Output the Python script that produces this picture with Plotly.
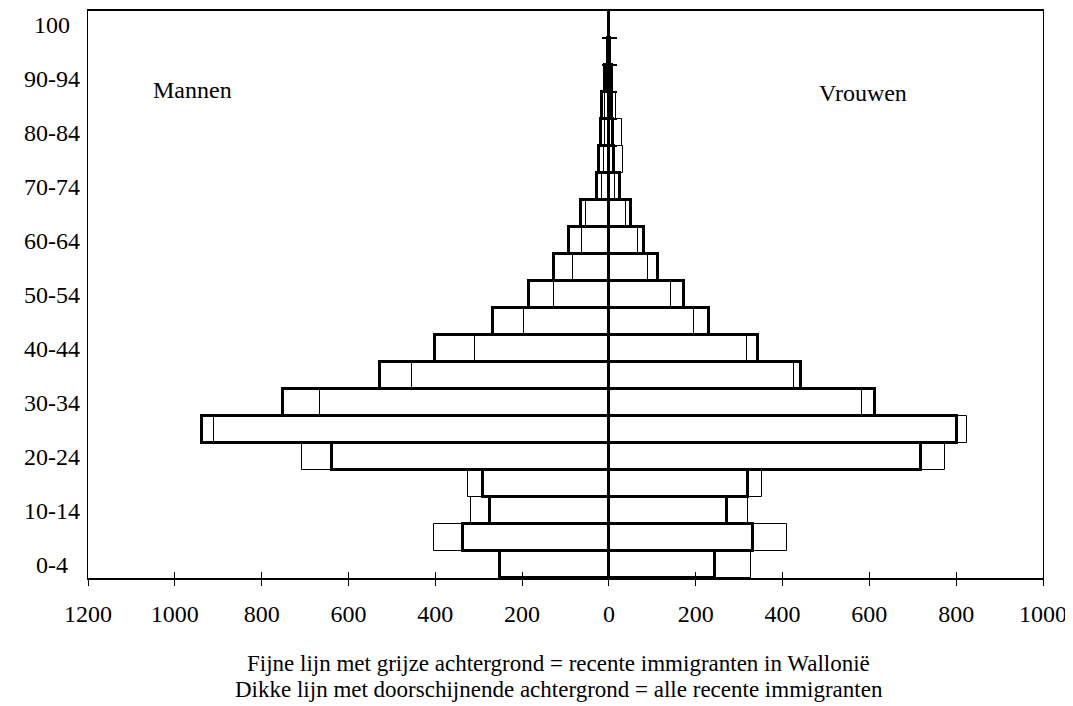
import plotly.graph_objects as go

age_groups = ["0-4", "5-9", "10-14", "15-19", "20-24", "25-29", "30-34", "35-39",
              "40-44", "45-49", "50-54", "55-59", "60-64", "65-69", "70-74",
              "75-79", "80-84", "85-89", "90-94", "95-99", "100"]

# Mannen (left side), alle recente immigranten (thick line)
men_all = [250, 335, 275, 289, 638, 937, 751, 528, 400, 266, 185, 127, 93, 65,
           27, 22, 18, 15, 10, 2, 0]
# Mannen, recente immigranten in Wallonië (thin line)
men_wal = [248, 404, 317, 324, 706, 909, 666, 454, 308, 195, 127, 83, 63, 52,
           15, 12, 10, 8, 5, 1, 0]
# Vrouwen (right side), alle recente immigranten (thick line)
women_all = [244, 331, 273, 321, 719, 803, 613, 442, 343, 231, 173, 112, 80, 50,
             25, 12, 10, 8, 8, 2, 0]
# Vrouwen, recente immigranten in Wallonië (thin line)
women_wal = [327, 410, 320, 352, 775, 825, 584, 427, 319, 196, 144, 90, 67, 40,
             14, 32, 30, 17, 5, 1, 0]

tick_labels = ["0-4", "10-14", "20-24", "30-34", "40-44", "50-54", "60-64",
               "70-74", "80-84", "90-94", "100"]
x_ticks = [-1200, -1000, -800, -600, -400, -200, 0, 200, 400, 600, 800, 1000]
x_ticktext = [str(abs(v)) for v in x_ticks]

FONT = "Liberation Serif, Times New Roman, serif"

fig = go.Figure()

thin = dict(color="white", line=dict(color="black", width=1))
thick = dict(color="rgba(0,0,0,0)", line=dict(color="black", width=3))

fig.add_trace(go.Bar(y=age_groups, x=[-v for v in men_wal], orientation="h",
                     marker=thin, showlegend=False))
fig.add_trace(go.Bar(y=age_groups, x=women_wal, orientation="h",
                     marker=thin, showlegend=False))
fig.add_trace(go.Bar(y=age_groups, x=[-v for v in men_all], orientation="h",
                     marker=thick, showlegend=False))
fig.add_trace(go.Bar(y=age_groups, x=women_all, orientation="h",
                     marker=thick, showlegend=False))

# empty helper traces so the overlay axes (tick decorations) are rendered
fig.add_trace(go.Scatter(x=[], y=[], xaxis="x2", yaxis="y", showlegend=False))
fig.add_trace(go.Scatter(x=[], y=[], xaxis="x", yaxis="y2", showlegend=False))
fig.add_trace(go.Scatter(x=[], y=[], xaxis="x", yaxis="y3", showlegend=False))

center_pos = 1200 / 2200
boundaries = [i + 0.5 for i in range(len(age_groups) - 1)]

# centred category labels on the left (the original centres them)
label_annotations = [
    dict(text=lab, x=-0.0377, y=age_groups.index(lab), xref="paper", yref="y",
         xanchor="center", yanchor="middle", showarrow=False,
         font=dict(family=FONT, size=24))
    for lab in tick_labels
]

fig.update_layout(
    width=1065, height=698,
    margin=dict(l=80, r=30, t=1, b=128),
    paper_bgcolor="white", plot_bgcolor="white",
    barmode="overlay", bargap=0,
    font=dict(family=FONT, size=24, color="black"),
    xaxis=dict(range=[-1200, 1000], tickvals=x_ticks, ticktext=x_ticktext,
               showgrid=False, zeroline=True, zerolinecolor="black", zerolinewidth=2.5,
               showline=True, linecolor="black", linewidth=1.5, mirror=True,
               ticks="outside", ticklen=6, tickcolor="black", tickwidth=1,
               ticklabelstandoff=7, tickfont=dict(family=FONT, size=24)),
    xaxis2=dict(range=[-1200, 1000], overlaying="x", anchor="y", side="bottom",
                tickvals=x_ticks, showticklabels=False, showgrid=False, zeroline=False,
                ticks="inside", ticklen=6, tickcolor="black", tickwidth=1),
    yaxis=dict(type="category", categoryorder="array", categoryarray=age_groups,
               range=[-0.5, len(age_groups) - 0.5],
               showticklabels=False, showgrid=False, zeroline=False,
               showline=True, linecolor="black", linewidth=1, mirror=True,
               ticks=""),
    yaxis2=dict(range=[-0.5, len(age_groups) - 0.5], overlaying="y", anchor="free",
                position=center_pos, tickvals=boundaries, showticklabels=False,
                showgrid=False, zeroline=False, showline=False,
                ticks="outside", ticklen=7, tickcolor="black", tickwidth=1.5),
    yaxis3=dict(range=[-0.5, len(age_groups) - 0.5], overlaying="y", anchor="free",
                position=center_pos, tickvals=boundaries, showticklabels=False,
                showgrid=False, zeroline=False, showline=False,
                ticks="inside", ticklen=7, tickcolor="black", tickwidth=1.5),
    annotations=label_annotations + [
        dict(text="Mannen", x=-1055, y=0.861, xref="x", yref="paper",
             xanchor="left", yanchor="middle", showarrow=False,
             font=dict(family=FONT, size=24)),
        dict(text="Vrouwen", x=480, y=0.856, xref="x", yref="paper",
             xanchor="left", yanchor="middle", showarrow=False,
             font=dict(family=FONT, size=24)),
        dict(text="Fijne lijn met grijze achtergrond = recente immigranten in Wallonië",
             x=0.493, y=-0.151, xref="paper", yref="paper",
             xanchor="center", yanchor="middle", showarrow=False,
             font=dict(family=FONT, size=23)),
        dict(text="Dikke lijn met doorschijnende achtergrond = alle recente immigranten",
             x=0.493, y=-0.197, xref="paper", yref="paper",
             xanchor="center", yanchor="middle", showarrow=False,
             font=dict(family=FONT, size=23)),
    ],
)

fig.write_html("out.html")
